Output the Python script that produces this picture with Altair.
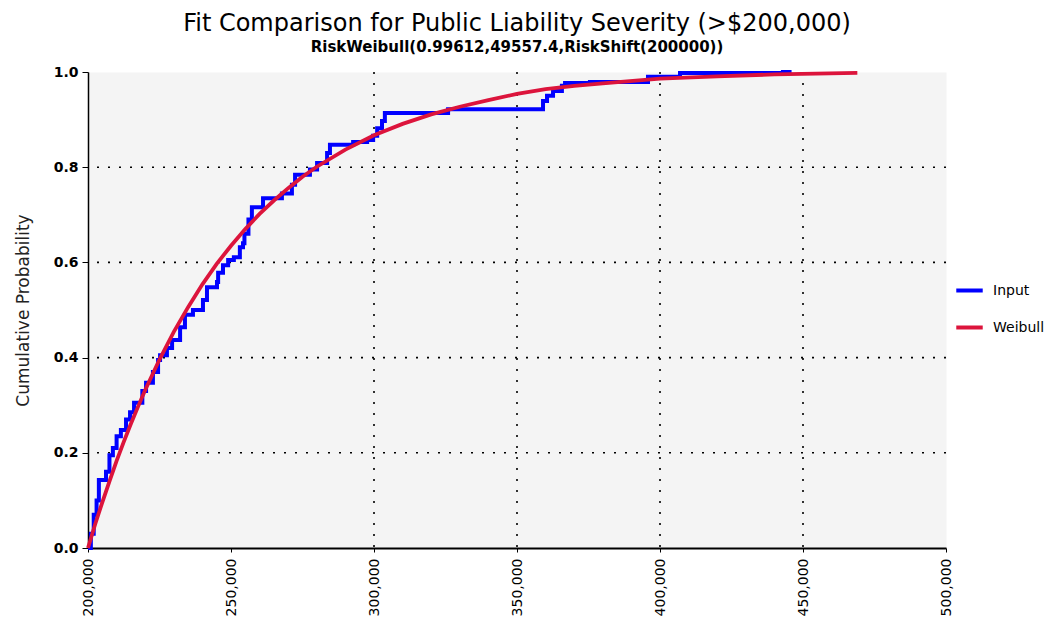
import altair as alt
import pandas as pd

# ---- data ----
series_names = ["Input", "Weibull"]
series_colors = ["#0000FF", "#DC143C"]

input_x = [200000, 201000, 202000, 203000, 203800, 206300, 207500, 208700, 210000, 211500,
           213300, 214700, 216100, 219000, 220300, 222700, 224500, 225200, 227600, 229400,
           232200, 233900, 236700, 240200, 241600, 245100, 245500, 247200, 249000, 251000,
           253100, 254200, 254700, 256100, 257300, 261200, 267800, 271300, 272400, 277600,
           280100, 283600, 284600, 292700, 297600, 299700, 301100, 302800, 303800, 325900,
           359100, 360500, 362600, 365700, 366800, 375500, 395800, 407000, 443000, 446000]
input_p = [0.0, 0.03, 0.07, 0.10, 0.143, 0.16, 0.195, 0.21, 0.235, 0.248,
           0.27, 0.285, 0.305, 0.33, 0.347, 0.37, 0.395, 0.405, 0.42, 0.437,
           0.464, 0.49, 0.50, 0.521, 0.548, 0.559, 0.578, 0.594, 0.605, 0.611,
           0.632, 0.64, 0.66, 0.69, 0.716, 0.735, 0.745, 0.763, 0.784, 0.795,
           0.809, 0.83, 0.847, 0.853, 0.857, 0.866, 0.882, 0.897, 0.914, 0.922,
           0.939, 0.95, 0.96, 0.971, 0.977, 0.979, 0.99, 0.998, 1.0, 1.0]

weibull_x = [200000, 202500, 205000, 207500, 210000, 212500, 215000, 217500, 220000, 225000,
             230000, 235000, 240000, 245000, 250000, 255000, 260000, 265000, 270000, 275000,
             280000, 290000, 300000, 310000, 320000, 330000, 340000, 350000, 360000, 370000,
             380000, 400000, 420000, 440000, 469000]
weibull_p = [0.0, 0.05, 0.096, 0.14, 0.183, 0.223, 0.261, 0.297, 0.332, 0.396,
             0.454, 0.506, 0.554, 0.597, 0.635, 0.67, 0.702, 0.73, 0.756, 0.78,
             0.801, 0.837, 0.867, 0.891, 0.911, 0.927, 0.941, 0.954, 0.964, 0.971,
             0.976, 0.986, 0.991, 0.995, 0.998]

x_ticks = [200000, 250000, 300000, 350000, 400000, 450000, 500000]
y_ticks = [0.0, 0.2, 0.4, 0.6, 0.8, 1.0]
grid_x = [300000, 350000, 400000, 450000]
grid_y = [0.2, 0.4, 0.6, 0.8]

title_text = "Fit Comparison for Public Liability Severity (>$200,000)"
subtitle_text = "RiskWeibull(0.99612,49557.4,RiskShift(200000))"

# ---- tables ----
df_in = pd.DataFrame({"x": input_x, "p": input_p, "series": series_names[0]})
df_w = pd.DataFrame({"x": weibull_x, "p": weibull_p, "series": series_names[1]})
df_gx = pd.DataFrame({"x": grid_x})
df_gy = pd.DataFrame({"p": grid_y})

xscale = alt.Scale(domain=[200000, 500000], nice=False, zero=False)
yscale = alt.Scale(domain=[0, 1], nice=False)
cscale = alt.Scale(domain=series_names, range=series_colors)

x_axis = alt.Axis(values=x_ticks, format=",d", labelAngle=-90, labelFontSize=14,
                  labelFont="DejaVu Sans", labelColor="black", tickSize=4,
                  tickColor="black", domainColor="black", domainWidth=2,
                  grid=False, title=None, labelPadding=6, labelFlush=False)
y_axis = alt.Axis(values=y_ticks, format=".1f", labelFontSize=14, labelFontWeight="bold",
                  labelFont="DejaVu Sans", labelColor="black", tickSize=6,
                  tickColor="black", domainColor="black", domainWidth=1.5,
                  grid=False, title="Cumulative Probability", titleFontSize=17,
                  titleFont="DejaVu Sans", titleFontWeight="normal", titleColor="#222222",
                  titlePadding=21, labelPadding=4, labelFlush=False)

grid_v = alt.Chart(df_gx).mark_rule(color="black", strokeDash=[2, 9], strokeWidth=1.6).encode(
    x=alt.X("x:Q", scale=xscale, axis=x_axis))
grid_h = alt.Chart(df_gy).mark_rule(color="black", strokeDash=[2, 9], strokeWidth=1.6).encode(
    y=alt.Y("p:Q", scale=yscale, axis=y_axis))

legend = alt.Legend(title=None, orient="none", legendX=866, legendY=203,
                    symbolType="stroke", symbolSize=700, symbolStrokeWidth=4,
                    labelFontSize=14, labelFont="DejaVu Sans", labelColor="black",
                    rowPadding=13, labelOffset=8)

line_in = alt.Chart(df_in).mark_line(interpolate="step-after", strokeWidth=4).encode(
    x=alt.X("x:Q", scale=xscale, axis=x_axis),
    y=alt.Y("p:Q", scale=yscale, axis=y_axis),
    color=alt.Color("series:N", scale=cscale, legend=legend))
line_w = alt.Chart(df_w).mark_line(strokeWidth=3.8).encode(
    x=alt.X("x:Q", scale=xscale, axis=x_axis),
    y=alt.Y("p:Q", scale=yscale, axis=y_axis),
    color=alt.Color("series:N", scale=cscale, legend=legend))

chart = alt.layer(grid_v, grid_h, line_in, line_w).properties(
    width=858, height=476,
    title=alt.TitleParams(text=title_text, subtitle=subtitle_text, anchor="middle",
                          font="DejaVu Sans", fontSize=24, fontWeight="normal", color="black",
                          subtitleFont="DejaVu Sans", subtitleFontSize=15,
                          subtitleFontWeight="bold",
                          subtitleColor="black", subtitlePadding=4, offset=9),
    autosize=alt.AutoSizeParams(type="none"),
    padding={"left": 80, "top": 64, "right": 100, "bottom": 80},
    background="white",
).configure_view(fill="#F4F4F4", stroke="transparent")

chart.save("out.html", embed_options={"renderer": "svg", "actions": False})
